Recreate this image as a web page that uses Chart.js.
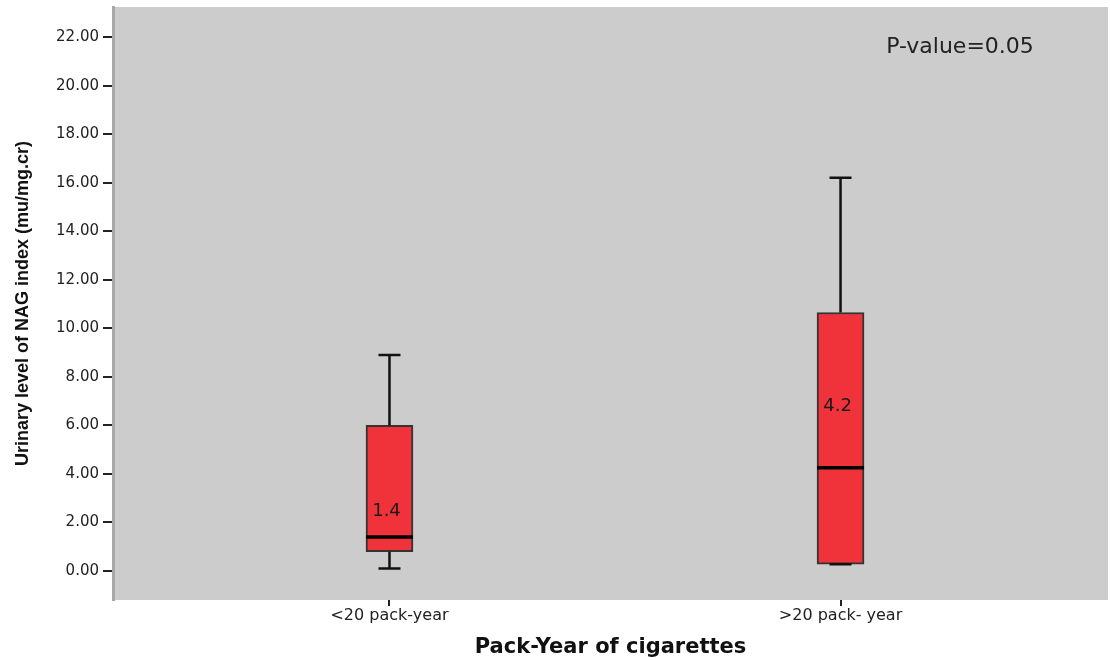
<!DOCTYPE html>
<html>
<head>
<meta charset="utf-8">
<script src="https://cdn.jsdelivr.net/npm/chart.js@4/dist/chart.umd.min.js"></script>
<style>
  html, body { margin: 0; padding: 0; background: #fff; }
  #wrap { width: 1110px; height: 660px; }
</style>
</head>
<body>
<div id="wrap"><canvas id="chart" width="1110" height="660"></canvas></div>
<script>
// donnees
const categories = ["<20 pack-year", ">20 pack- year"];
const groupPos = [1, 2];
const whiskerLow = [0.1, 0.27];
const q1 = [0.79, 0.28];
const median = [1.4, 4.25];
const q3 = [6.0, 10.65];
const whiskerHigh = [8.9, 16.2];
const medianText = ["1.4", "4.2"];
const medianTextAt = [2.45, 6.8];
const yTicks = [0, 2, 4, 6, 8, 10, 12, 14, 16, 18, 20, 22];
const pValueText = "P-value=0.05";

const boxes = groupPos.map((x, i) => ({ x: x, y: [q1[i], q3[i]] }));

// fond gris de la zone du graphique
const plotBackground = {
  id: "plotBackground",
  beforeDraw(chart) {
    const a = chart.chartArea, ctx = chart.ctx;
    ctx.save();
    ctx.fillStyle = "#cccccc";
    ctx.fillRect(a.left, a.top, a.right - a.left, a.bottom - a.top);
    ctx.restore();
  }
};

// moustaches, medianes, textes
const boxWhiskers = {
  id: "boxWhiskers",
  afterDatasetsDraw(chart) {
    const ctx = chart.ctx;
    const xs = chart.scales.x, ys = chart.scales.y;
    const meta = chart.getDatasetMeta(0);
    ctx.save();
    ctx.strokeStyle = "#111";
    ctx.lineCap = "butt";
    groupPos.forEach((g, i) => {
      const xc = xs.getPixelForValue(g);
      const capW = 11;
      ctx.lineWidth = 2.5;
      ctx.beginPath();
      ctx.moveTo(xc, ys.getPixelForValue(q3[i]));
      ctx.lineTo(xc, ys.getPixelForValue(whiskerHigh[i]));
      ctx.moveTo(xc, ys.getPixelForValue(q1[i]));
      ctx.lineTo(xc, ys.getPixelForValue(whiskerLow[i]));
      ctx.moveTo(xc - capW, ys.getPixelForValue(whiskerHigh[i]));
      ctx.lineTo(xc + capW, ys.getPixelForValue(whiskerHigh[i]));
      ctx.moveTo(xc - capW, ys.getPixelForValue(whiskerLow[i]));
      ctx.lineTo(xc + capW, ys.getPixelForValue(whiskerLow[i]));
      ctx.stroke();

      const bar = meta.data[i];
      const half = bar.width / 2;
      ctx.lineWidth = 3.5;
      ctx.strokeStyle = "#000";
      ctx.beginPath();
      ctx.moveTo(bar.x - half, ys.getPixelForValue(median[i]));
      ctx.lineTo(bar.x + half, ys.getPixelForValue(median[i]));
      ctx.stroke();
      ctx.strokeStyle = "#111";

      ctx.fillStyle = "#1a1a1a";
      ctx.font = "18px 'DejaVu Sans'";
      ctx.textAlign = "center";
      ctx.textBaseline = "middle";
      ctx.fillText(medianText[i], xc - 3, ys.getPixelForValue(medianTextAt[i]));
    });
    ctx.font = "22px 'DejaVu Sans'";
    ctx.fillStyle = "#222";
    ctx.textAlign = "center";
    ctx.textBaseline = "middle";
    ctx.fillText(pValueText, chart.chartArea.right - 148, chart.chartArea.top + 40);
    ctx.restore();
  }
};

new Chart(document.getElementById("chart"), {
  type: "bar",
  data: {
    datasets: [{
      label: "NAG",
      data: boxes,
      backgroundColor: "#f0333a",
      borderColor: "#333333",
      borderWidth: 2,
      borderSkipped: false,
      barThickness: 47
    }]
  },
  options: {
    responsive: false,
    animation: false,
    layout: { padding: { top: 7, right: 2, left: 0, bottom: 0 } },
    plugins: {
      legend: { display: false },
      tooltip: { enabled: false }
    },
    scales: {
      x: {
        type: "linear",
        offset: false,
        min: 0.387,
        max: 2.593,
        afterBuildTicks(scale) { scale.ticks = groupPos.map(v => ({ value: v })); },
        afterFit(scale) { scale.height = 60; scale.paddingLeft = 0; scale.paddingRight = 0; },
        ticks: {
          callback: (v) => categories[groupPos.indexOf(v)] || "",
          color: "#222",
          font: { family: "'DejaVu Sans'", size: 16 },
          padding: 0,
          maxRotation: 0,
          autoSkip: false
        },
        grid: { offset: false, drawOnChartArea: false, drawTicks: true, tickLength: 6, color: "#222", lineWidth: 2 },
        border: { display: false },
        title: {
          display: true,
          text: "Pack-Year of cigarettes",
          color: "#111",
          font: { family: "'DejaVu Sans'", size: 21, weight: "bold" },
          padding: { top: 3, bottom: 0 }
        }
      },
      y: {
        min: -1.2,
        max: 23.24,
        afterBuildTicks(scale) { scale.ticks = yTicks.map(v => ({ value: v })); },
        afterFit(scale) { scale.width = 113; scale.paddingTop = 0; scale.paddingBottom = 0; },
        ticks: {
          callback: (v) => v.toFixed(2),
          color: "#222",
          font: { family: "'DejaVu Sans'", size: 15 },
          padding: 4
        },
        grid: { drawOnChartArea: false, drawTicks: true, tickLength: 10, color: "#222", lineWidth: 2 },
        border: { display: true, color: "#a8a8a8", width: 3 },
        title: {
          display: true,
          text: "Urinary level of NAG index (mu/mg.cr)",
          color: "#111",
          font: { family: "'Liberation Sans Narrow', 'Arial Narrow', sans-serif", size: 18, weight: "bold" },
          padding: { top: 12, bottom: 0 }
        }
      }
    }
  },
  plugins: [plotBackground, boxWhiskers]
});
</script>
</body>
</html>
